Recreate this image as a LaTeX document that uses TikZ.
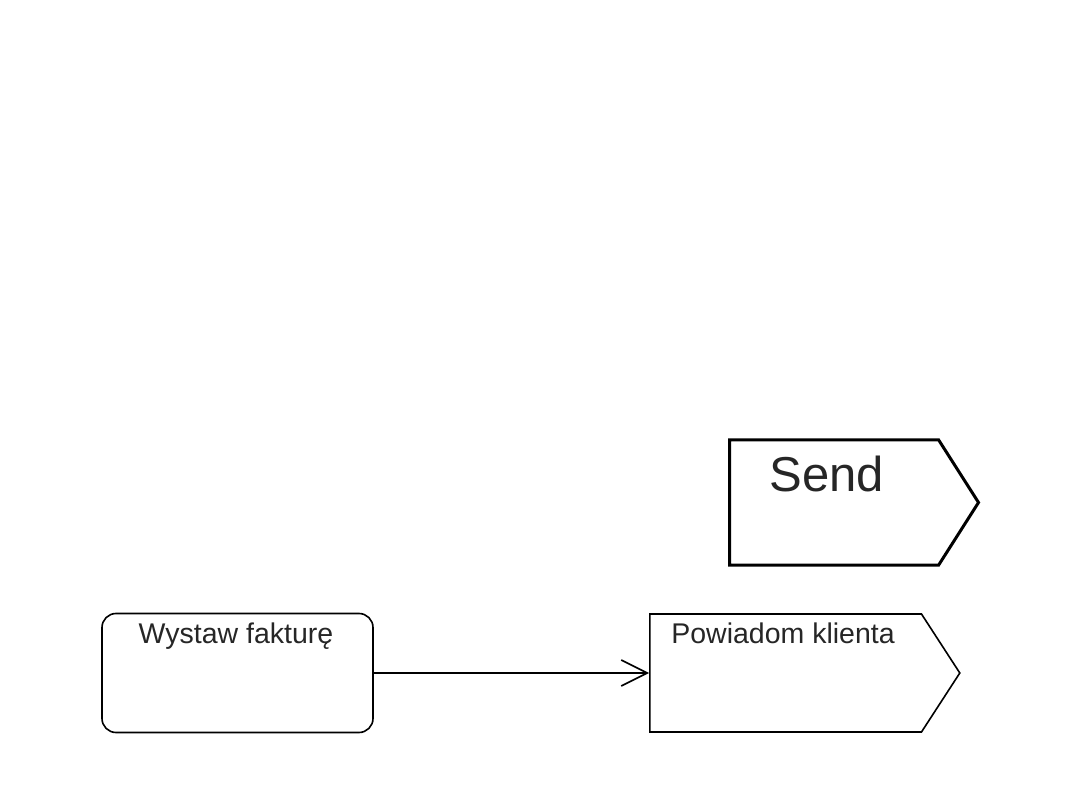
\documentclass[tikz,border=0pt]{standalone}
\usepackage{fontspec}
\setmainfont{Liberation Sans}
\usepackage{tikz}
\usetikzlibrary{arrows.meta,positioning,shapes.symbols}

\begin{document}
\begin{tikzpicture}[
  x=1pt,y=-1pt,
  action/.style={draw,rounded corners=14pt,line width=1.6pt,
                 minimum width=271pt,minimum height=119pt,inner sep=0pt},
  sendbox/.style={draw,signal,signal to=east,inner sep=0pt,line width=1.6pt,anchor=west},
  caption/.style={font=\fontsize{28.5}{31}\selectfont,text=black!85,anchor=base},
  flow/.style={-{Straight Barb[length=26pt,width=26pt,line width=1.6pt]},line width=1.6pt}
]
\useasboundingbox (0,0) rectangle (1080,810);

% big send symbol
\node[sendbox,line width=3pt,signal pointer angle=115,
      minimum width=249pt,minimum height=125pt] (send) at (728,502.5) {};
\node[font=\fontsize{49}{52}\selectfont,text=black!85,anchor=base] (sendtxt) at (827,492) {Send};

% activities
\node[action] (wystaw) at (237.5,673) {};
\node[caption] (wystawtxt) at (236,643) {Wystaw fakturę};
\node[sendbox,signal pointer angle=114,
      minimum width=310pt,minimum height=118pt] (powiadom) at (649,673) {};
\node[caption] (powiadomtxt) at (783,643) {Powiadom klienta};

\draw[flow] (wystaw.east) -- (powiadom.west);
\end{tikzpicture}
\end{document}
